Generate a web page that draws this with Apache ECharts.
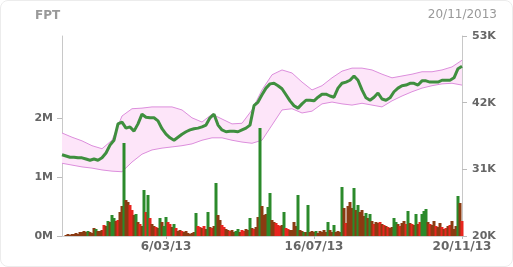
<!DOCTYPE html>
<html>
<head>
<meta charset="utf-8">
<script src="https://cdn.jsdelivr.net/npm/echarts@6/dist/echarts.min.js"></script>
<style>
  html, body { margin: 0; padding: 0; background: #fff; }
  #main { width: 513px; height: 267px; }
  #frame { position: absolute; left: 0; top: 0; width: 511px; height: 265px;
           border: 1px solid #ececec; border-radius: 8px; pointer-events: none; }
</style>
</head>
<body>
<div id="main"></div>
<div id="frame"></div>
<script>
  // FPT, one year of trading, ending 20/11/2013
  var symbol = 'FPT';
  var lastDate = '20/11/2013';

  // x axis labels (index into the volume series)
  var tickIndex = [52, 126, 200];
  var tickLabels = ['6/03/13', '16/07/13', '20/11/13'];

  // closing price, thousand VND (sampled every other session)
  var closePrice = [33.4,33.2,33.0,33.0,32.9,32.9,32.7,32.5,32.7,32.5,
    32.9,33.7,35.0,35.8,38.5,38.8,37.8,38.0,37.3,38.5,
    40.1,39.6,39.5,39.5,39.0,37.7,36.8,36.2,35.8,36.3,
    36.8,37.2,37.5,37.7,37.8,38.0,38.3,39.5,40.1,38.3,
    37.5,37.2,37.3,37.3,37.2,37.5,37.8,38.3,41.5,42.1,
    43.3,44.4,45.1,45.2,44.8,44.3,43.3,42.3,41.5,41.1,
    41.8,42.4,42.4,42.3,42.9,43.4,43.4,43.1,42.9,44.4,
    45.2,45.4,45.7,46.4,45.7,44.1,42.8,42.4,42.9,43.6,
    42.6,42.4,42.8,43.8,44.4,44.8,44.9,45.2,45.2,44.9,
    45.6,45.6,45.4,45.4,45.4,45.7,45.7,45.7,46.1,47.6,
    48.0];

  // bollinger band edges, thousand VND
  var upperBand = [37.0,36.3,35.7,34.9,34.4,35.8,39.8,41.0,41.1,41.3,
    41.3,41.3,40.8,39.5,38.8,40.1,39.3,38.5,38.6,40.8,
    44.1,46.6,47.4,46.9,45.4,44.1,44.8,46.1,47.2,47.7,
    47.7,47.4,46.7,46.1,46.4,46.7,47.1,47.1,47.4,47.9,
    49.0];
  var lowerBand = [32.0,31.7,31.4,31.2,30.9,30.7,30.6,32.2,33.5,34.2,
    34.5,34.7,34.9,35.2,35.8,36.2,36.2,35.8,35.5,35.3,
    35.8,38.3,40.8,41.0,40.3,40.6,41.8,42.1,41.8,41.6,
    41.9,41.6,41.3,42.3,43.1,43.8,44.4,44.8,45.1,45.2,
    44.9];

  // volume, thousand shares
  var volume = [0,0,17,34,17,34,34,51,34,68,
    68,85,68,85,68,51,136,119,85,85,
    102,187,170,255,238,357,306,255,272,408,
    510,1581,612,578,527,442,357,374,238,204,
    170,782,408,697,306,204,170,153,136,306,
    238,170,323,238,204,153,204,136,85,102,
    85,68,85,51,34,51,68,391,170,153,
    136,170,119,408,153,136,170,901,357,272,
    187,153,119,102,85,102,68,85,119,68,
    102,85,119,102,306,136,119,153,323,1836,
    510,357,374,493,731,272,238,221,187,170,
    187,408,136,119,102,102,238,170,697,102,
    85,68,68,527,68,85,68,85,51,85,
    68,102,68,238,102,68,187,68,85,68,
    833,476,221,510,578,476,816,442,527,408,
    442,340,391,306,374,255,204,238,221,238,
    204,187,170,153,136,153,306,238,204,170,
    221,255,204,425,221,204,187,374,204,238,
    374,425,459,238,204,187,255,170,153,221,
    153,119,136,170,187,255,119,170,680,561,
    255];
  // g = up, r = down, b = mixed
  var volumeTone = 'bbbbbbbbbb' + 'bbbgbbbgbb' + 'brbgbggbrb' + 'bgbbrrbgbr' + 'bgrgrbbrbg' +
    'bggrrbgrbb' + 'rbbbbbbgrr' + 'brbgbrbgbb' + 'rrbbrbbggb' + 'rrbbgbrbbg' +
    'bbbggbbrrr' + 'bgrrbbbbgb' + 'bgbgbbbgbb' + 'bbbgbbgbbb' + 'gbrbbbgbgb' +
    'bbgbgbrbbr' + 'brbrbbggbr' + 'bbrgbrbgbr' + 'gggbrbbrbb' + 'rbrbrbbbgb' + 'r';

  var toneColor = { g: '#2b8a2b', r: '#e8251f', b: '#8b3b12' };

  var volIdx = volume.map(function (v, i) { return String(i); });
  var bandIdx = upperBand.map(function (v, i) { return String(i); });
  var closeIdx = closePrice.map(function (v, i) { return String(i); });
  var bandWidth = upperBand.map(function (v, i) { return +(v - lowerBand[i]).toFixed(1); });

  var labelFont = { color: '#666', fontFamily: 'DejaVu Sans', fontSize: 11, fontWeight: 'bold' };

  var chart = echarts.init(document.getElementById('main'));
  chart.setOption({
    animation: false,
    graphic: [
      { type: 'text', left: 35, top: 10,
        style: { text: symbol, fill: '#999', font: 'bold 12px "DejaVu Sans"' } },
      { type: 'text', right: 16, top: 9,
        style: { text: lastDate, fill: '#999', font: '12px "DejaVu Sans"' } }
    ],
    grid: { left: 62, right: 51, top: 36, bottom: 31 },
    xAxis: [
      {
        type: 'category', data: volIdx, boundaryGap: false,
        axisLine: { lineStyle: { color: '#d0d0d0' } },
        axisTick: { show: true, length: 3, lineStyle: { color: '#bbb' },
          interval: function (i) { return tickIndex.indexOf(i) >= 0; } },
        axisLabel: Object.assign({}, labelFont, {
          margin: 5, fontSize: 12,
          interval: function (i) { return tickIndex.indexOf(i) >= 0; },
          formatter: function (v, i) {
            var k = tickIndex.indexOf(+v);
            return k >= 0 ? tickLabels[k] : '';
          }
        })
      },
      { type: 'category', data: bandIdx, boundaryGap: false, show: false },
      { type: 'category', data: closeIdx, boundaryGap: false, show: false }
    ],
    yAxis: [
      {
        type: 'value', position: 'left', min: 0, max: 3400,
        splitLine: { show: false },
        axisLine: { show: true, lineStyle: { color: '#c8c8c8' } },
        axisTick: { show: true, length: 5, customValues: [0, 1000, 2000], lineStyle: { color: '#bbb' } },
        axisLabel: Object.assign({}, labelFont, {
          margin: 9, customValues: [0, 1000, 2000],
          formatter: function (v) { return (v / 1000) + 'M'; }
        })
      },
      {
        type: 'value', position: 'right', min: 20, max: 53,
        splitLine: { show: false },
        axisLine: { show: true, lineStyle: { color: '#c8c8c8' } },
        axisTick: { show: true, length: 5, customValues: [20, 31, 42, 53], lineStyle: { color: '#bbb' } },
        axisLabel: Object.assign({}, labelFont, {
          margin: 10, customValues: [20, 31, 42, 53],
          formatter: function (v) { return v + 'K'; }
        })
      }
    ],
    series: [
      {
        name: 'lower', type: 'line', xAxisIndex: 1, yAxisIndex: 1, stack: 'band',
        data: lowerBand, symbol: 'none', z: 1,
        lineStyle: { color: '#dc8edc', width: 1 }
      },
      {
        name: 'upper', type: 'line', xAxisIndex: 1, yAxisIndex: 1, stack: 'band',
        data: bandWidth, symbol: 'none', z: 1,
        lineStyle: { color: '#dc8edc', width: 1 },
        areaStyle: { color: '#fde5f9', opacity: 1 }
      },
      {
        name: 'volume', type: 'bar', xAxisIndex: 0, yAxisIndex: 0,
        data: volume, barWidth: 3, z: 2,
        itemStyle: {
          color: function (p) { return toneColor[volumeTone.charAt(p.dataIndex)]; }
        }
      },
      {
        name: 'close', type: 'line', xAxisIndex: 2, yAxisIndex: 1,
        data: closePrice, symbol: 'none', z: 3,
        lineStyle: { color: '#3f8f3f', width: 3 }
      }
    ]
  });
</script>
</body>
</html>
